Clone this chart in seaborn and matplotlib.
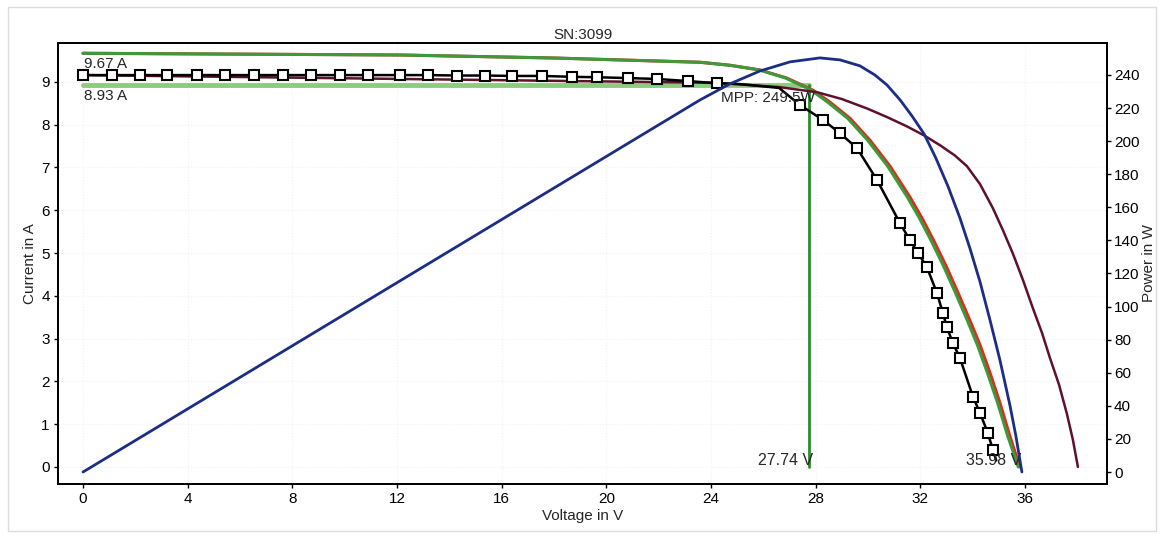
import matplotlib
matplotlib.use("Agg")
import matplotlib.pyplot as plt
import seaborn as sns
from matplotlib.patches import Rectangle

# values read off the scanned I-V / P-V chart
# reference I-V curve (red) and its green copy
ref_v = [0, 12.11, 17.96, 23.58, 24.72, 25.87, 26.90, 27.89, 28.54, 29.31, 30.07, 30.84,
         31.60, 32.06, 32.52, 32.98, 33.44, 33.89, 34.28, 34.66, 35.04, 35.42, 35.80]
ref_i = [9.67, 9.63, 9.56, 9.46, 9.39, 9.28, 9.09, 8.81, 8.53, 8.15, 7.64, 7.03,
         6.31, 5.82, 5.28, 4.70, 4.07, 3.43, 2.85, 2.20, 1.50, 0.72, 0.0]
green_v = [0, 12.11, 17.96, 23.58, 24.72, 25.85, 26.85, 27.82, 28.45, 29.22, 29.98, 30.75,
           31.50, 31.96, 32.42, 32.88, 33.34, 33.79, 34.18, 34.56, 34.95, 35.34, 35.74]
green_i = [9.67, 9.63, 9.56, 9.46, 9.39, 9.28, 9.09, 8.81, 8.53, 8.15, 7.64, 7.03,
           6.31, 5.82, 5.28, 4.70, 4.07, 3.43, 2.85, 2.20, 1.50, 0.72, 0.0]

# measured points (black squares)
meas_v = [0, 1.11, 2.18, 3.21, 4.34, 5.41, 6.53, 7.64, 8.71, 9.82, 10.89, 12.11, 13.18,
          14.29, 15.36, 16.39, 17.54, 18.69, 19.64, 20.83, 21.93, 23.12, 24.23, 25.1, 26.6,
          27.40, 28.28, 28.93, 29.58, 30.34, 31.22, 31.60, 31.91, 32.25, 32.63, 32.86,
          33.01, 33.24, 33.51, 34.01, 34.28, 34.58, 34.77, 34.9]
meas_i = [9.16, 9.16, 9.16, 9.16, 9.16, 9.16, 9.16, 9.16, 9.16, 9.16, 9.16, 9.16, 9.16,
          9.15, 9.15, 9.14, 9.14, 9.12, 9.11, 9.09, 9.07, 9.02, 8.97, 8.95, 8.86,
          8.46, 8.11, 7.80, 7.45, 6.71, 5.70, 5.30, 5.00, 4.67, 4.07, 3.60,
          3.27, 2.90, 2.55, 1.64, 1.26, 0.79, 0.40, 0.15]
meas_plain = [25.1, 26.6, 34.9]   # points on the line without a marker

# STC-corrected curve (maroon)
stc_v = [0, 24.2, 26.6, 28.05, 29.00, 29.96, 30.72, 31.49, 32.17, 32.75, 33.32, 33.78,
         34.28, 34.77, 35.15, 35.54, 35.92, 36.30, 36.65, 36.95, 37.30, 37.60, 37.83, 38.02]
stc_i = [9.16, 8.98, 8.88, 8.76, 8.60, 8.38, 8.18, 7.96, 7.74, 7.52, 7.28, 7.03,
         6.61, 6.05, 5.54, 4.98, 4.37, 3.71, 3.13, 2.55, 1.92, 1.24, 0.63, 0.0]

# power curve (blue, right axis)
pow_v = [0, 12.11, 23.58, 24.72, 25.87, 27.02, 28.16, 28.93, 29.69, 30.26, 30.72,
         31.22, 31.68, 32.14, 32.59, 33.05, 33.51, 33.89, 34.28, 34.66, 35.04, 35.42,
         35.65, 35.88]
pow_w = [0, 115.5, 224.9, 234.6, 242.4, 247.9, 250.3, 249.1, 245.5, 240.0, 234.0,
         225.0, 215.2, 204.4, 189.8, 172.9, 153.6, 135.4, 114.9, 91.9, 67.7, 40.5,
         21.8, 0]

mpp_v = 27.74
mpp_i = 8.93
isc = 9.67
voc = 35.98
mpp_w = 249.5

x_ticks = [0, 4, 8, 12, 16, 20, 24, 28, 32, 36]
i_ticks = [0, 1, 2, 3, 4, 5, 6, 7, 8, 9]
p_ticks = [0, 20, 40, 60, 80, 100, 120, 140, 160, 180, 200, 220, 240]

sns.set_theme(style="ticks")
plt.rcParams['font.family'] = ['Liberation Sans', 'DejaVu Sans']

fig = plt.figure(figsize=(11.63, 5.35), dpi=100)
ax = fig.add_axes([0.0499, 0.0953, 0.9019, 0.8243])
ax2 = ax.twinx()

# MPP cross lines
sns.lineplot(x=[0, mpp_v], y=[mpp_i, mpp_i], ax=ax, color="#8dcc7e", lw=3.5,
             sort=False, estimator=None)
sns.lineplot(x=[mpp_v, mpp_v], y=[mpp_i, 0], ax=ax, color="#2c8c2c", lw=2,
             sort=False, estimator=None)

sns.lineplot(x=ref_v, y=ref_i, ax=ax, color="#e02a1c", lw=2.2, sort=False, estimator=None)
sns.lineplot(x=green_v, y=green_i, ax=ax, color="#3d9a3a", lw=2.2, sort=False, estimator=None)
sns.lineplot(x=stc_v, y=stc_i, ax=ax, color="#5e1030", lw=1.8, sort=False, estimator=None)

marked = [k for k, v in enumerate(meas_v) if v not in meas_plain]
sns.lineplot(x=meas_v, y=meas_i, ax=ax, color="black", lw=1.8, sort=False, estimator=None,
             marker="s", markevery=marked, markersize=7, markerfacecolor="white",
             markeredgecolor="black", markeredgewidth=1.5)

sns.lineplot(x=pow_v, y=pow_w, ax=ax2, color="#1c2d86", lw=2, sort=False, estimator=None)

# labels on the chart
ax.text(0.05, 9.42, f"{isc:.2f} A", fontsize=11, ha="left", va="center")
ax.text(0.05, 8.66, f"{mpp_i:.2f} A", fontsize=11, ha="left", va="center")
ax.text(27.95, 8.62, f"MPP: {mpp_w}W", fontsize=11, ha="right", va="center")
ax.text(27.9, 0.14, f"{mpp_v:.2f} V", fontsize=11.5, ha="right", va="center")
ax.text(35.85, 0.14, f"{voc:.2f} V", fontsize=11.5, ha="right", va="center")

ax.set_xlim(-0.955, 39.13)
ax.set_ylim(-0.40, 9.91)
ax2.set_ylim(-7.26, 259.3)

ax.set_xticks(x_ticks)
ax.set_yticks(i_ticks)
ax2.set_yticks(p_ticks)
ax.tick_params(axis="both", direction="out", length=3, width=1, labelsize=11, pad=3, colors="black")
ax2.tick_params(axis="y", direction="out", length=3, width=1, labelsize=11, pad=2, colors="black")

ax.set_xlabel("Voltage in V", fontsize=11, labelpad=2)
ax.set_ylabel("Current in A", fontsize=11, labelpad=3)
ax2.set_ylabel("Power in W", fontsize=11, labelpad=2)
ax.set_title("SN:3099", fontsize=11, pad=3)

ax.grid(True, color="#f2f2f2", lw=0.8, ls=":")
for a in (ax, ax2):
    for s in a.spines.values():
        s.set_visible(True)
        s.set_color("black")
        s.set_linewidth(1.3)

# faint frame around the whole picture
fig.patches.append(Rectangle((8 / 1163, 4 / 535), 1148 / 1163, 524 / 535,
                             transform=fig.transFigure, fill=False,
                             edgecolor="#dcdcdc", lw=1))

fig.savefig("out.png", dpi=100)
